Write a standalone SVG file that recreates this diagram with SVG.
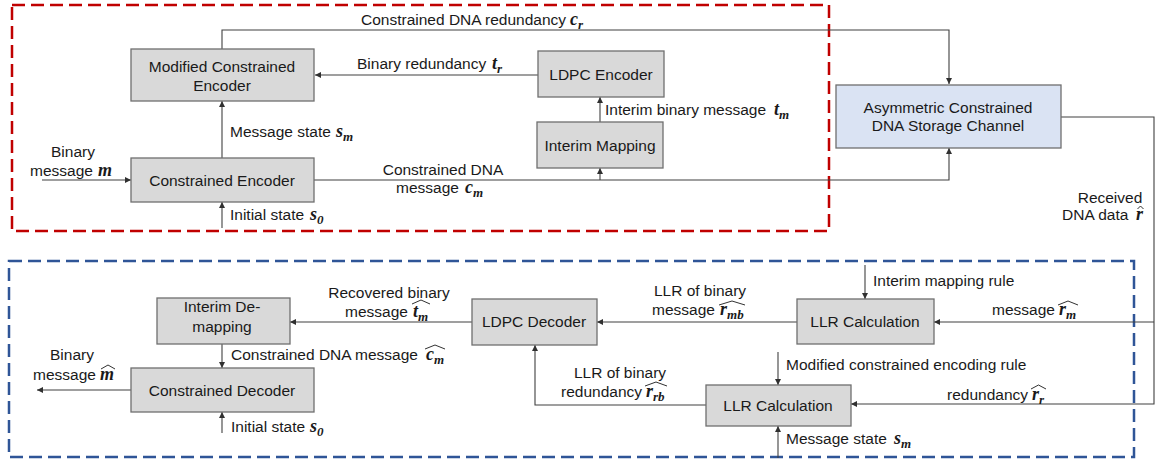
<svg xmlns="http://www.w3.org/2000/svg" width="1158" height="464" viewBox="0 0 1158 464">
<style>
.box{fill:#d9d9d9;stroke:#6f6f6f;stroke-width:1.3}
.blue{fill:#dae3f3;stroke:#6f6f6f;stroke-width:1.3}
.t{font-family:"Liberation Sans",Arial,sans-serif;font-size:15.5px;fill:#1a1a1a}
.c{text-anchor:middle}
.m{font-family:"Liberation Serif","Times New Roman",serif;font-style:italic;font-weight:bold;font-size:18px}
.s{font-size:13px}
.ln{fill:none;stroke:#404040;stroke-width:1.1}
.hat{fill:none;stroke:#1a1a1a;stroke-width:0.9}
</style>
<defs>
<marker id="ah" viewBox="0 0 8 8" refX="8" refY="4" markerWidth="6" markerHeight="6" orient="auto" markerUnits="userSpaceOnUse">
<path d="M0,0 L8,4 L0,8 z" fill="#303030"/>
</marker>
</defs>
<rect x="12" y="5" width="817" height="226" fill="none" stroke="#c00000" stroke-width="2.5" stroke-dasharray="13,6"/>
<rect x="9" y="261" width="1125" height="196" fill="none" stroke="#2f5597" stroke-width="2.5" stroke-dasharray="13,6"/>
<g id="connectors">
<path class="ln" d="M222,49 V30 H949 V84" marker-end="url(#ah)"/>
<path class="ln" d="M538,75 H315" marker-end="url(#ah)"/>
<path class="ln" d="M600,122 V97" marker-end="url(#ah)"/>
<path class="ln" d="M222,158 V101" marker-end="url(#ah)"/>
<path class="ln" d="M42,180 H131" marker-end="url(#ah)"/>
<path class="ln" d="M222,228 V202" marker-end="url(#ah)"/>
<path class="ln" d="M314,180 H949 V148" marker-end="url(#ah)"/>
<path class="ln" d="M600,180 V168" marker-end="url(#ah)"/>
<path class="ln" d="M1061,117 H1154 V404 H851" marker-end="url(#ah)"/>
<path class="ln" d="M1154,322 H934" marker-end="url(#ah)"/>
<path class="ln" d="M865,265 V299" marker-end="url(#ah)"/>
<path class="ln" d="M797,322 H597" marker-end="url(#ah)"/>
<path class="ln" d="M778,352 V385" marker-end="url(#ah)"/>
<path class="ln" d="M778,458 V426" marker-end="url(#ah)"/>
<path class="ln" d="M706,405 H535 V345" marker-end="url(#ah)"/>
<path class="ln" d="M472,322 H290" marker-end="url(#ah)"/>
<path class="ln" d="M222,344 V368" marker-end="url(#ah)"/>
<path class="ln" d="M131,390 H37" marker-end="url(#ah)"/>
<path class="ln" d="M222,433 V412" marker-end="url(#ah)"/>
</g>
<g id="mce"><rect class="box" x="131" y="49" width="183" height="52"/>
<text class="t c" x="222" y="72">Modified Constrained</text><text class="t c" x="222" y="91">Encoder</text></g>
<g id="ce"><rect class="box" x="131" y="158" width="183" height="44"/>
<text class="t c" x="222" y="186">Constrained Encoder</text></g>
<g id="ldpce"><rect class="box" x="538" y="51" width="126" height="46"/>
<text class="t c" x="601" y="80">LDPC Encoder</text></g>
<g id="im"><rect class="box" x="537" y="122" width="126" height="46"/>
<text class="t c" x="600" y="151">Interim Mapping</text></g>
<g id="asym"><rect class="blue" x="836" y="85" width="225" height="63"/>
<text class="t c" x="948" y="113">Asymmetric Constrained</text><text class="t c" x="948" y="131">DNA Storage Channel</text></g>
<g id="llr1"><rect class="box" x="797" y="299" width="137" height="45"/>
<text class="t c" x="865" y="327">LLR Calculation</text></g>
<g id="ldpcd"><rect class="box" x="472" y="299" width="125" height="46"/>
<text class="t c" x="534" y="327">LDPC Decoder</text></g>
<g id="llr2"><rect class="box" x="706" y="385" width="145" height="41"/>
<text class="t c" x="778" y="411">LLR Calculation</text></g>
<g id="idm"><rect class="box" x="157" y="298" width="133" height="46"/>
<text class="t c" x="222" y="312">Interim De-</text><text class="t c" x="222" y="332">mapping</text></g>
<g id="cd"><rect class="box" x="131" y="368" width="183" height="44"/>
<text class="t c" x="222" y="396">Constrained Decoder</text></g>
<g id="labels">
<text class="t" x="361" y="25">Constrained DNA redundancy <tspan class="m" x="570">c</tspan><tspan class="m s" dy="4">r</tspan></text>
<text class="t" x="357" y="69">Binary redundancy <tspan class="m" x="492">t</tspan><tspan class="m s" dy="4">r</tspan></text>
<text class="t" x="230" y="137">Message state <tspan class="m" x="336">s</tspan><tspan class="m s" dy="4">m</tspan></text>
<text class="t c" x="73" y="157">Binary</text>
<text class="t" x="30" y="176">message <tspan class="m" x="98">m</tspan></text>
<text class="t" x="230" y="220">Initial state <tspan class="m" x="310">s</tspan><tspan class="m s" dy="4">0</tspan></text>
<text class="t" x="605" y="115">Interim binary message <tspan class="m" x="774">t</tspan><tspan class="m s" dy="4">m</tspan></text>
<text class="t c" x="443" y="175">Constrained DNA</text>
<text class="t" x="396" y="193">message <tspan class="m" x="465">c</tspan><tspan class="m s" dy="4">m</tspan></text>
<text class="t c" x="1110" y="203">Received</text>
<text class="t" x="1062" y="220">DNA data <tspan class="m" x="1136">r</tspan></text>
<path class="hat" d="M1137.5,209 L1140.5,206 L1143.5,209"/>
<text class="t" x="992" y="315">message <tspan class="m" x="1059">r</tspan><tspan class="m s" dy="4">m</tspan></text>
<path class="hat" d="M1058,305 L1068,301 L1078,305"/>
<text class="t c" x="700" y="296">LLR of binary</text>
<text class="t" x="652" y="315">message <tspan class="m" x="720">r</tspan><tspan class="m s" dy="4">mb</tspan></text>
<path class="hat" d="M719,305 L732,301 L745,305"/>
<text class="t c" x="389" y="298">Recovered binary</text>
<text class="t" x="345" y="317">message <tspan class="m" x="413">t</tspan><tspan class="m s" dy="4">m</tspan></text>
<path class="hat" d="M412,304 L421,300 L430,304"/>
<text class="t" x="231" y="360">Constrained DNA message <tspan class="m" x="426">c</tspan><tspan class="m s" dy="4">m</tspan></text>
<path class="hat" d="M425,349 L435,345 L445,349"/>
<text class="t c" x="72" y="360">Binary</text>
<text class="t" x="33" y="380">message <tspan class="m" x="100">m</tspan></text>
<path class="hat" d="M101,369 L108,365 L115,369"/>
<text class="t" x="231" y="432">Initial state <tspan class="m" x="310">s</tspan><tspan class="m s" dy="4">0</tspan></text>
<text class="t" x="786" y="370">Modified constrained encoding rule</text>
<text class="t" x="873" y="286">Interim mapping rule</text>
<text class="t c" x="620" y="378">LLR of binary</text>
<text class="t" x="561" y="397">redundancy <tspan class="m" x="646">r</tspan><tspan class="m s" dy="4">rb</tspan></text>
<path class="hat" d="M645,386 L656,382 L667,386"/>
<text class="t" x="947" y="400">redundancy <tspan class="m" x="1032">r</tspan><tspan class="m s" dy="4">r</tspan></text>
<path class="hat" d="M1031,389 L1038.5,385 L1046,389"/>
<text class="t" x="786" y="444">Message state <tspan class="m" x="894">s</tspan><tspan class="m s" dy="4">m</tspan></text>
</g>
</svg>
